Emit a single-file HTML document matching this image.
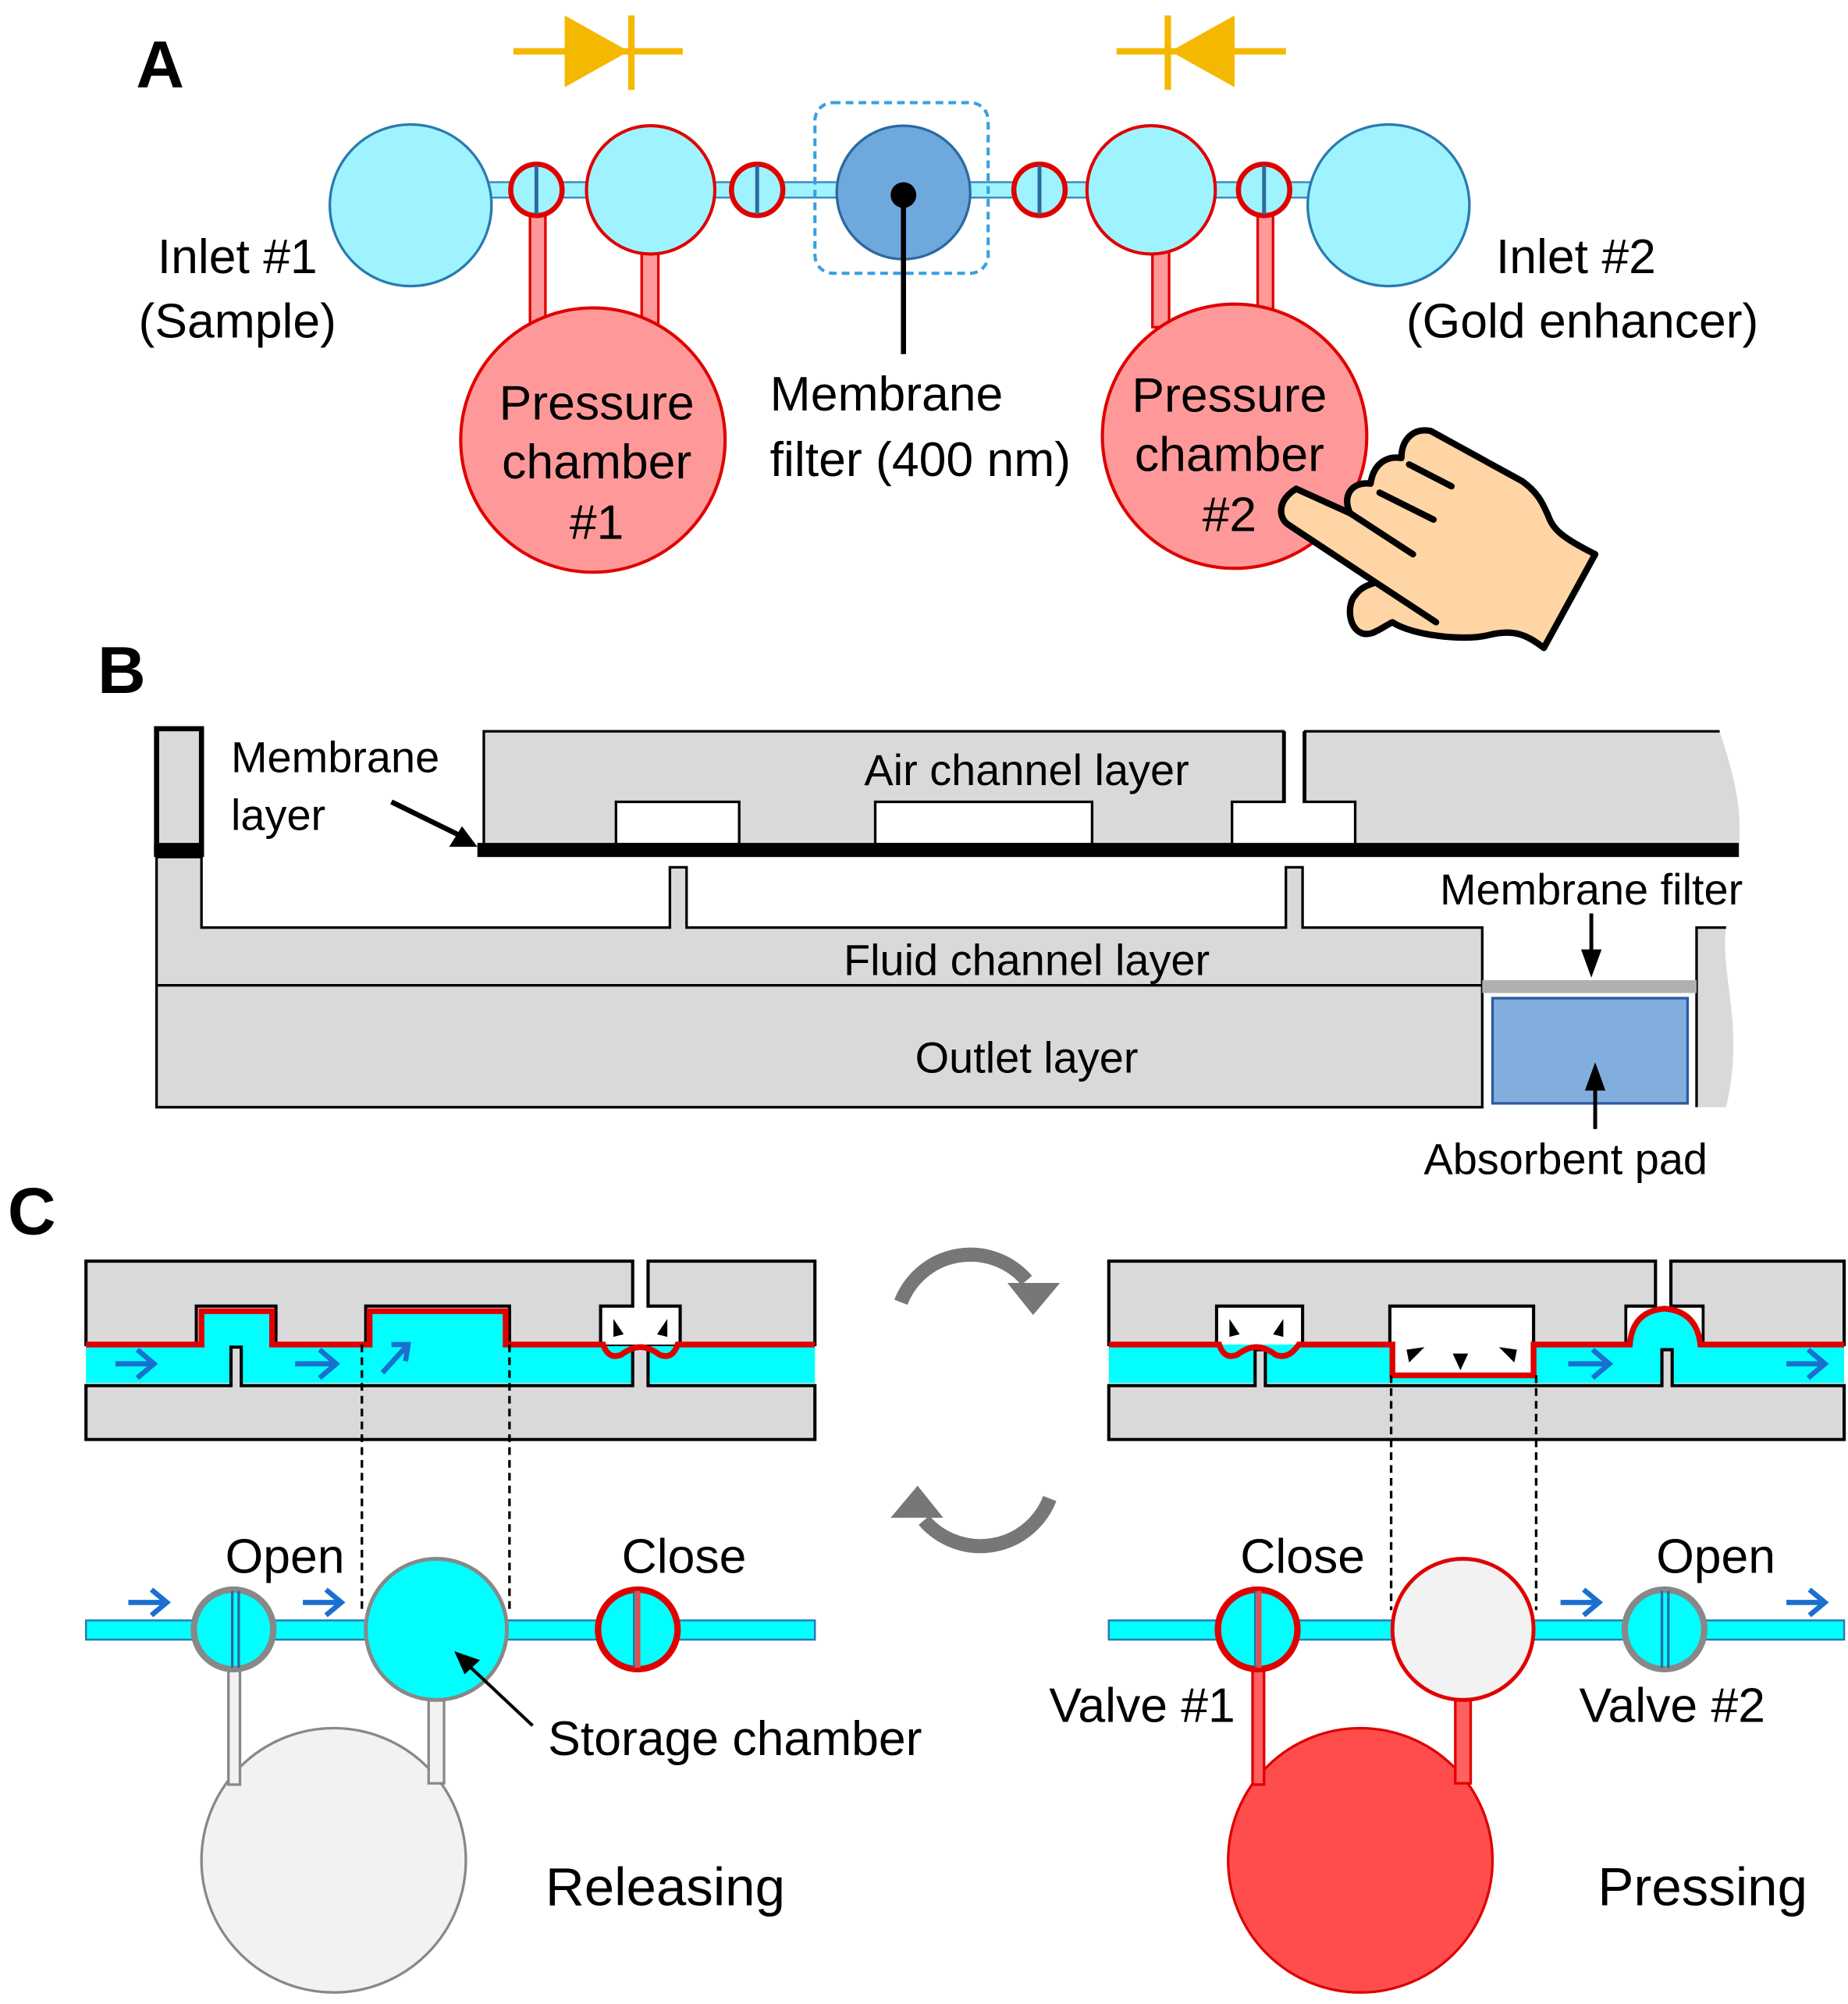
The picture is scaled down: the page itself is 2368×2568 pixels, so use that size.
<!DOCTYPE html>
<html><head><meta charset="utf-8"><style>
html,body{margin:0;padding:0;background:#fff;}
svg{display:block;}
text{font-family:"Liberation Sans",sans-serif;fill:#000;}
</style></head><body>
<svg width="2368" height="2568" viewBox="0 0 1440 1562" preserveAspectRatio="none" xmlns="http://www.w3.org/2000/svg">
<!-- ============ PANEL A ============ -->
<text x="106" y="68" font-size="52" font-weight="bold">A</text>
<g stroke="#f5b800" stroke-width="5" fill="#f5b800">
<line x1="400" y1="40" x2="532" y2="40"/>
<polygon points="440,12 440,68 490,40" stroke="none"/>
<line x1="492" y1="12" x2="492" y2="70"/>
<line x1="870" y1="40" x2="1002" y2="40"/>
<polygon points="962,12 962,68 912,40" stroke="none"/>
<line x1="910" y1="12" x2="910" y2="70"/>
</g>
<rect x="375" y="142" width="650" height="12" fill="#9ff3ff" stroke="#3a8bc0" stroke-width="1.5"/>
<g fill="#ff9999" stroke="#e00000" stroke-width="2">
<rect x="413" y="160" width="12" height="100"/>
<rect x="500" y="190" width="13" height="70"/>
<rect x="898" y="190" width="13" height="65"/>
<rect x="980" y="160" width="12" height="95"/>
</g>
<circle cx="320" cy="160" r="63" fill="#9ff3ff" stroke="#2a7ab0" stroke-width="2"/>
<circle cx="1082" cy="160" r="63" fill="#9ff3ff" stroke="#2a7ab0" stroke-width="2"/>
<circle cx="507" cy="148" r="50" fill="#9ff3ff" stroke="#e00000" stroke-width="2.5"/>
<circle cx="897" cy="148" r="50" fill="#9ff3ff" stroke="#e00000" stroke-width="2.5"/>
<rect x="635" y="80" width="135" height="133" rx="14" fill="none" stroke="#3aa0e0" stroke-width="2.5" stroke-dasharray="6,4"/>
<circle cx="704" cy="150" r="52" fill="#6fa8dc" stroke="#2a6aa0" stroke-width="2"/>
<line x1="704" y1="152" x2="704" y2="276" stroke="#000" stroke-width="4"/>
<circle cx="704" cy="152" r="10" fill="#000"/>
<g>
<circle cx="418" cy="148" r="20" fill="#9ff3ff" stroke="#e00000" stroke-width="4"/>
<line x1="418" y1="129" x2="418" y2="167" stroke="#2a6aa0" stroke-width="3"/>
<circle cx="590" cy="148" r="20" fill="#9ff3ff" stroke="#e00000" stroke-width="4"/>
<line x1="590" y1="129" x2="590" y2="167" stroke="#2a6aa0" stroke-width="3"/>
<circle cx="810" cy="148" r="20" fill="#9ff3ff" stroke="#e00000" stroke-width="4"/>
<line x1="810" y1="129" x2="810" y2="167" stroke="#2a6aa0" stroke-width="3"/>
<circle cx="985" cy="148" r="20" fill="#9ff3ff" stroke="#e00000" stroke-width="4"/>
<line x1="985" y1="129" x2="985" y2="167" stroke="#2a6aa0" stroke-width="3"/>
</g>
<circle cx="462" cy="343" r="103" fill="#ff9999" stroke="#e00000" stroke-width="2.5"/>
<circle cx="962" cy="340" r="103" fill="#ff9999" stroke="#e00000" stroke-width="2.5"/>
<g font-size="38" text-anchor="middle">
<text x="465" y="327">Pressure</text><text x="465" y="373">chamber</text><text x="465" y="420">#1</text>
<text x="958" y="321">Pressure</text><text x="958" y="367">chamber</text><text x="958" y="414">#2</text>
<text x="185" y="213">Inlet #1</text><text x="185" y="263">(Sample)</text>
<text x="1228" y="213">Inlet #2</text><text x="1233" y="263">(Gold enhancer)</text>
</g>
<text x="600" y="320" font-size="38">Membrane</text>
<text x="600" y="371" font-size="38">filter (400 nm)</text>
<!-- hand -->
<path d="M1243,432 L1203,505" stroke="#ffd5a5" stroke-width="3"/>
<path d="M1010,381 L1052,400 C1045,385 1055,375 1068,377 C1070,362 1080,355 1092,357 C1092,342 1102,333 1115,336 L1186,375 C1200,385 1203,395 1206,401 C1210,412 1215,418 1243,432 L1203,505 C1190,495 1180,490 1160,495 C1140,500 1100,495 1085,485 C1075,490 1068,497 1060,493 C1050,488 1050,470 1056,464 C1060,458 1066,456 1072,454 L1004,409 C996,404 995,390 1010,381" fill="#ffd5a5" stroke="#000" stroke-width="5" stroke-linejoin="round" stroke-linecap="round"/>
<path d="M1052,400 L1101,432 M1075,384 L1117,405 M1098,362 L1131,379 M1072,454 L1119,485" stroke="#000" stroke-width="5" fill="none" stroke-linecap="round"/>

<!-- ============ PANEL B ============ -->
<text x="76" y="540" font-size="52" font-weight="bold">B</text>
<g fill="#d9d9d9" stroke="#000" stroke-width="2">
<rect x="122" y="568" width="35" height="95" stroke-width="4"/>
<path d="M122,668 L157,668 L157,723 L522,723 L522,676 L535,676 L535,723 L1002,723 L1002,676 L1015,676 L1015,723 L1155,723 L1155,768 L122,768 Z"/>
<rect x="122" y="768" width="1033" height="95"/>
</g>
<path d="M377,660 L377,570 L1000,570 L1000,625 L1017,625 L1017,570 L1340,570 C1350,600 1358,630 1355,660 Z" fill="#d9d9d9"/>
<path d="M377,660 L377,570 L1000,570 L1000,625 M1017,625 L1017,570 L1340,570" fill="none" stroke="#000" stroke-width="2"/>
<path d="M1322,863 L1322,723 L1345,723 C1340,760 1360,800 1345,863 Z" fill="#d9d9d9"/>
<path d="M1322,863 L1322,723 L1345,723" fill="none" stroke="#000" stroke-width="2"/>
<rect x="480" y="625" width="96" height="33" fill="#fff" stroke="#000" stroke-width="2"/>
<rect x="682" y="625" width="169" height="33" fill="#fff" stroke="#000" stroke-width="2"/>
<path d="M960,658 L960,625 L1001,625 L1001,570 L1016,570 L1016,625 L1056,625 L1056,658 Z" fill="#fff"/>
<path d="M960,658 L960,625 L1001,625 L1001,570 M1016,570 L1016,625 L1056,625 L1056,658" fill="none" stroke="#000" stroke-width="2"/>
<rect x="372" y="657" width="983" height="11" fill="#000"/>
<rect x="120" y="657" width="39" height="11" fill="#000"/>
<rect x="1155" y="764" width="167" height="10" fill="#b0b0b0"/>
<rect x="1163" y="778" width="152" height="82" fill="#82aede" stroke="#2a5aa0" stroke-width="2"/>
<g font-size="34">
<text x="180" y="602">Membrane</text><text x="180" y="647">layer</text>
<text x="800" y="612" text-anchor="middle">Air channel layer</text>
<text x="800" y="760" text-anchor="middle">Fluid channel layer</text>
<text x="800" y="836" text-anchor="middle">Outlet layer</text>
<text x="1240" y="705" text-anchor="middle">Membrane filter</text>
<text x="1220" y="915" text-anchor="middle">Absorbent pad</text>
</g>
<line x1="305" y1="625" x2="360" y2="652" stroke="#000" stroke-width="4"/>
<polygon points="372,660 350,660 360,644" fill="#000"/>
<line x1="1240" y1="712" x2="1240" y2="745" stroke="#000" stroke-width="3"/>
<polygon points="1232,740 1248,740 1240,762" fill="#000"/>
<line x1="1243" y1="880" x2="1243" y2="845" stroke="#000" stroke-width="3"/>
<polygon points="1235,850 1251,850 1243,828" fill="#000"/>

<!-- ============ PANEL C ============ -->
<text x="6" y="962" font-size="52" font-weight="bold">C</text>
<rect x="67" y="1048" width="568" height="30" fill="#00ffff"/>
<g fill="#d9d9d9" stroke="#000" stroke-width="2.5">
<path d="M67,1048 L67,983 L493,983 L493,1018 L468,1018 L468,1048 L530,1048 L530,1018 L505,1018 L505,983 L635,983 L635,1048 L397,1048 L397,1018 L285,1018 L285,1048 L215,1048 L215,1018 L153,1018 L153,1048 Z"/>
<path d="M67,1122 L67,1080 L180,1080 L180,1050 L188,1050 L188,1080 L493,1080 L493,1050 L505,1050 L505,1080 L635,1080 L635,1122 Z"/>
</g>
<rect x="156" y="1022" width="56" height="26" fill="#00ffff"/>
<rect x="288" y="1022" width="106" height="26" fill="#00ffff"/>
<rect x="470" y="1020" width="58" height="28" fill="#fff"/>
<path d="M67,1048 L157,1048 L157,1022 L212,1022 L212,1048 L288,1048 L288,1022 L394,1022 L394,1048 L470,1048 Q474,1060 484,1056 Q492,1050 499,1050 Q506,1050 514,1056 Q524,1060 528,1048 L635,1048" fill="none" stroke="#e00000" stroke-width="4.5"/>
<g fill="#000"><polygon points="478,1028 486,1040 478,1042"/><polygon points="520,1028 512,1040 520,1042"/></g>
<g stroke="#1a6fd0" stroke-width="4" fill="none">
<path d="M90,1063 L120,1063 M107,1052 L120,1063 L107,1074"/>
<path d="M230,1063 L262,1063 M249,1052 L262,1063 L249,1074"/>
<path d="M298,1070 L318,1048 M305,1048 L318,1048 L316,1061"/>
</g>
<g stroke="#000" stroke-width="2" stroke-dasharray="6,4">
<line x1="282" y1="1048" x2="282" y2="1255"/><line x1="397" y1="1048" x2="397" y2="1255"/>
</g>
<rect x="67" y="1263" width="568" height="15" fill="#00ffff" stroke="#2a7ab0" stroke-width="1.5"/>
<circle cx="260" cy="1450" r="103" fill="#f2f2f2" stroke="#888" stroke-width="2"/>
<g fill="#f2f2f2" stroke="#888" stroke-width="2">
<rect x="178" y="1295" width="9" height="96"/><rect x="334" y="1318" width="12" height="72"/>
</g>
<circle cx="182" cy="1270" r="31" fill="#00ffff" stroke="#888" stroke-width="5"/>
<line x1="181" y1="1240" x2="181" y2="1300" stroke="#2a6aa0" stroke-width="2"/><line x1="186" y1="1240" x2="186" y2="1300" stroke="#2a6aa0" stroke-width="2"/>
<circle cx="340" cy="1270" r="55" fill="#00ffff" stroke="#888" stroke-width="3"/>
<circle cx="497" cy="1270" r="31" fill="#00ffff" stroke="#e00000" stroke-width="5"/>
<line x1="497" y1="1240" x2="497" y2="1300" stroke="#e05050" stroke-width="4"/><line x1="494" y1="1240" x2="494" y2="1300" stroke="#2a6aa0" stroke-width="1.5"/>
<g stroke="#1a6fd0" stroke-width="4" fill="none">
<path d="M100,1249 L130,1249 M118,1239 L130,1249 L118,1259"/>
<path d="M236,1249 L266,1249 M254,1239 L266,1249 L254,1259"/>
</g>
<line x1="415" y1="1345" x2="365" y2="1298" stroke="#000" stroke-width="2.5"/>
<polygon points="354,1287 374,1294 362,1305" fill="#000"/>
<g font-size="38">
<text x="222" y="1226" text-anchor="middle">Open</text>
<text x="533" y="1226" text-anchor="middle">Close</text>
<text x="427" y="1368">Storage chamber</text>
<text x="425" y="1485" font-size="42">Releasing</text>
<text x="1015" y="1226" text-anchor="middle">Close</text>
<text x="1337" y="1226" text-anchor="middle">Open</text>
<text x="890" y="1342" text-anchor="middle">Valve #1</text>
<text x="1303" y="1342" text-anchor="middle">Valve #2</text>
<text x="1245" y="1485" font-size="42">Pressing</text>
</g>
<g fill="none" stroke="#777" stroke-width="11">
<path d="M702,1015 A58,58 0 0 1 800,998"/>
<path d="M818,1168 A58,58 0 0 1 720,1185"/>
</g>
<polygon points="785,1000 826,1000 805,1025" fill="#777"/>
<polygon points="735,1183 694,1183 715,1158" fill="#777"/>
<rect x="864" y="1048" width="573" height="30" fill="#00ffff"/>
<g fill="#d9d9d9" stroke="#000" stroke-width="2.5">
<path d="M864,1048 L864,983 L1290,983 L1290,1018 L1267,1018 L1267,1048 L1195,1048 L1195,1018 L1083,1018 L1083,1048 L1015,1048 L1015,1018 L948,1018 L948,1048 Z"/>
<path d="M1302,983 L1437,983 L1437,1048 L1327,1048 L1327,1018 L1302,1018 Z"/>
<path d="M864,1122 L864,1080 L978,1080 L978,1052 L986,1052 L986,1080 L1295,1080 L1295,1052 L1303,1052 L1303,1080 L1437,1080 L1437,1122 Z"/>
</g>
<rect x="950" y="1020" width="63" height="28" fill="#fff"/>
<rect x="1085" y="1020" width="108" height="50" fill="#fff"/>
<rect x="1268" y="1020" width="58" height="28" fill="#fff"/>
<path d="M1270,1048 Q1272,1022 1297,1020 Q1322,1022 1325,1048 Z" fill="#00ffff"/>
<path d="M864,1048 L950,1048 Q954,1060 964,1056 Q972,1050 979,1050 Q986,1050 994,1056 Q1004,1060 1012,1048 L1085,1048 L1085,1072 L1195,1072 L1195,1048 L1270,1048 Q1272,1022 1297,1020 Q1322,1022 1325,1048 L1437,1048" fill="none" stroke="#e00000" stroke-width="4.5"/>
<g fill="#000">
<polygon points="958,1028 966,1040 958,1042"/><polygon points="1000,1028 992,1040 1000,1042"/>
<polygon points="1110,1050 1098,1062 1096,1052"/><polygon points="1132,1055 1144,1055 1138,1068"/><polygon points="1168,1050 1180,1062 1182,1052"/>
</g>
<g stroke="#1a6fd0" stroke-width="4" fill="none">
<path d="M1222,1063 L1254,1063 M1241,1052 L1254,1063 L1241,1074"/>
<path d="M1392,1063 L1422,1063 M1409,1052 L1422,1063 L1409,1074"/>
</g>
<g stroke="#000" stroke-width="2" stroke-dasharray="6,4">
<line x1="1084" y1="1072" x2="1084" y2="1255"/><line x1="1197" y1="1072" x2="1197" y2="1255"/>
</g>
<rect x="864" y="1263" width="573" height="15" fill="#00ffff" stroke="#2a7ab0" stroke-width="1.5"/>
<circle cx="1060" cy="1450" r="103" fill="#ff4d4d" stroke="#e00000" stroke-width="2"/>
<g fill="#ff6060" stroke="#e00000" stroke-width="2">
<rect x="976" y="1295" width="9" height="96"/><rect x="1134" y="1318" width="12" height="72"/>
</g>
<circle cx="980" cy="1270" r="31" fill="#00ffff" stroke="#e00000" stroke-width="5"/>
<line x1="981" y1="1240" x2="981" y2="1300" stroke="#e05050" stroke-width="4"/><line x1="978" y1="1240" x2="978" y2="1300" stroke="#2a6aa0" stroke-width="1.5"/>
<circle cx="1140" cy="1270" r="55" fill="#f2f2f2" stroke="#e00000" stroke-width="3"/>
<circle cx="1297" cy="1270" r="31" fill="#00ffff" stroke="#888" stroke-width="5"/>
<line x1="1295" y1="1240" x2="1295" y2="1300" stroke="#2a6aa0" stroke-width="2"/><line x1="1300" y1="1240" x2="1300" y2="1300" stroke="#2a6aa0" stroke-width="2"/>
<g stroke="#1a6fd0" stroke-width="4" fill="none">
<path d="M1216,1249 L1246,1249 M1234,1239 L1246,1249 L1234,1259"/>
<path d="M1392,1249 L1422,1249 M1410,1239 L1422,1249 L1410,1259"/>
</g>
</svg>
</body></html>
